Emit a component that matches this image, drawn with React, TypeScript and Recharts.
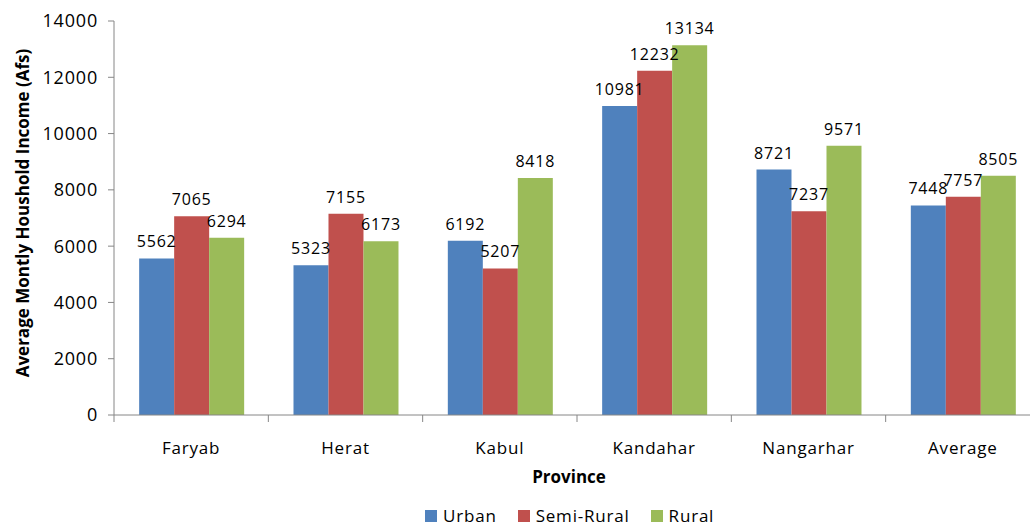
import React from "react";
import {
  BarChart,
  Bar,
  XAxis,
  YAxis,
  Legend,
  LabelList,
} from "recharts";

const provinces = ["Faryab", "Herat", "Kabul", "Kandahar", "Nangarhar", "Average"];
const urban = [5562, 5323, 6192, 10981, 8721, 7448];
const semiRural = [7065, 7155, 5207, 12232, 7237, 7757];
const rural = [6294, 6173, 8418, 13134, 9571, 8505];
const yTicks = [0, 2000, 4000, 6000, 8000, 10000, 12000, 14000];

const seriesInfo = [
  { key: "urban", name: "Urban", color: "#4F81BD" },
  { key: "semiRural", name: "Semi-Rural", color: "#C0504D" },
  { key: "rural", name: "Rural", color: "#9BBB59" },
];

const data = provinces.map((p, i) => ({
  province: p,
  urban: urban[i],
  semiRural: semiRural[i],
  rural: rural[i],
}));

const CHART_W = 1040;
const CHART_H = 527;
const Y_AXIS_W = 114;
const BAND = (CHART_W - Y_AXIS_W) / provinces.length;
const FONT = "'Open Sans', 'Liberation Sans', sans-serif";
const AXIS_COLOR = "#868686";

function CategoryTick(props: any) {
  const { x, y, payload } = props;
  const left = x - BAND / 2;
  return (
    <g>
      <line x1={left} y1={y} x2={left} y2={y + 7} stroke={AXIS_COLOR} />
      <text
        x={x}
        y={y + 39}
        textAnchor="middle"
        fill="#000"
        fontSize={17}
        letterSpacing={0.8}
        fontFamily={FONT}
      >
        {payload.value}
      </text>
    </g>
  );
}

function LegendBox() {
  return (
    <div style={{ display: "flex", alignItems: "center", fontFamily: FONT, fontSize: 17, letterSpacing: 0.8, lineHeight: "20px" }}>
      {seriesInfo.map((s) => (
        <div key={s.key} style={{ display: "flex", alignItems: "center", marginRight: 21 }}>
          <span style={{ width: 12, height: 12, background: s.color, display: "inline-block", marginRight: 6 }} />
          <span>{s.name}</span>
        </div>
      ))}
    </div>
  );
}

export default function App() {
  return (
    <div
      style={{
        position: "fixed",
        left: 0,
        top: 0,
        width: 1030,
        height: 527,
        overflow: "hidden",
        background: "#fff",
      }}
    >
      <BarChart
        width={CHART_W}
        height={CHART_H}
        data={data}
        margin={{ top: 21, right: 0, left: 0, bottom: 0 }}
        barCategoryGap="16.3%"
        barGap={0}
      >
        <XAxis
          dataKey="province"
          height={112}
          stroke={AXIS_COLOR}
          tickLine={false}
          tickSize={0}
          tickMargin={0}
          interval={0}
          tick={<CategoryTick />}
          label={{
            content: () => (
              <text
                x={569}
                y={483}
                textAnchor="middle"
                fontFamily={FONT}
                fontWeight="bold"
                fontSize={17}
                fill="#000"
              >
                Province
              </text>
            ),
          }}
        />
        <YAxis
          width={Y_AXIS_W}
          domain={[0, 14000]}
          ticks={yTicks}
          interval={0}
          stroke={AXIS_COLOR}
          tickSize={6}
          tickMargin={10}
          tick={{ fill: "#000", fontSize: 18, fontFamily: FONT, letterSpacing: 0.8 }}
          label={{
            content: () => (
              <text
                x={29}
                y={213}
                transform="rotate(-90 29 213)"
                textAnchor="middle"
                fontFamily={FONT}
                fontWeight="bold"
                fontSize={17}
                fill="#000"
              >
                Average Montly Houshold Income (Afs)
              </text>
            ),
          }}
        />
        <Legend
          layout="horizontal"
          verticalAlign="middle"
          align="center"
          content={<LegendBox />}
          wrapperStyle={{ top: 506, left: 425, width: "auto" }}
        />
        {seriesInfo.map((s) => (
          <Bar
            key={s.key}
            dataKey={s.key}
            name={s.name}
            fill={s.color}
            isAnimationActive={false}
          >
            <LabelList
              dataKey={s.key}
              position="top"
              offset={11}
              fill="#000"
              fontSize={16}
              fontFamily={FONT}
              letterSpacing={0.8}
            />
          </Bar>
        ))}
      </BarChart>
    </div>
  );
}
